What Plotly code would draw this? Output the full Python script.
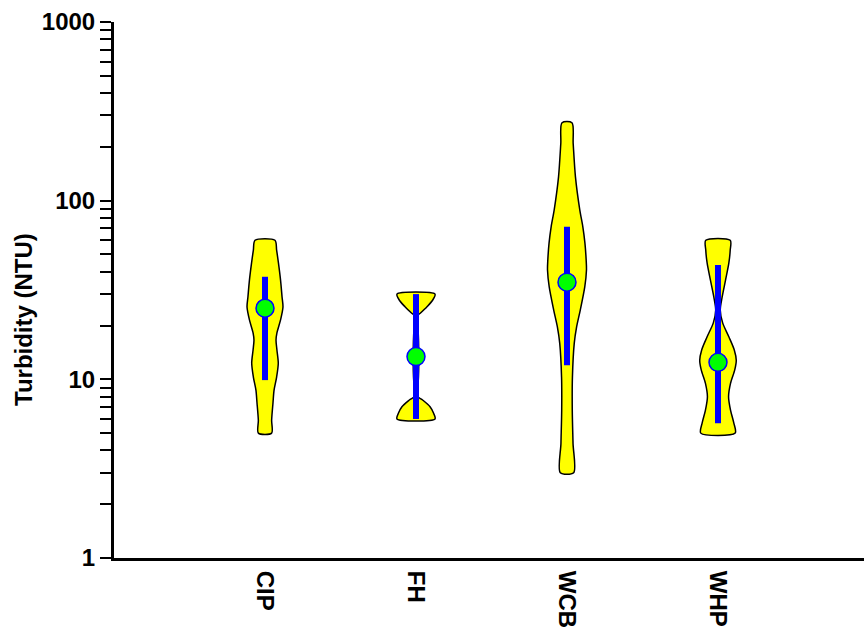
import plotly.graph_objects as go

# ---------------- data ----------------
categories = ["CIP", "FH", "WCB", "WHP"]
medians = [25.0, 13.4, 35.0, 12.45]
interval_low = [9.9, 6.0, 12.0, 5.67]
interval_high = [37.5, 30.0, 71.5, 43.6]

# violin outlines: levels (NTU, top to bottom) and half widths (category units)
cip_levels = [60, 52.9, 44.8, 35.9, 28.9, 25.4, 21.5, 18.2, 16.6, 14.6, 12.3, 10.3, 8.7, 7.4, 5.9, 5.0]
cip_half = [0.066, 0.077, 0.089, 0.103, 0.113, 0.119, 0.103, 0.079, 0.073, 0.079, 0.088, 0.077, 0.060, 0.053, 0.044, 0.044]

fh_levels = [30, 27.8, 25.5, 23.5, 22.3, 8.17, 7.66, 7.03, 6.48, 6.0]
fh_half = [0.126, 0.111, 0.073, 0.030, 0.0, 0.0, 0.044, 0.093, 0.116, 0.126]

wcb_levels = [273, 209, 136, 88.6, 71.4, 57.7, 46.5, 40.9, 33.0, 24.4, 19.7, 15.9, 10.3, 6.73, 4.38, 3.0]
wcb_half = [0.033, 0.041, 0.056, 0.085, 0.105, 0.119, 0.127, 0.129, 0.118, 0.088, 0.064, 0.048, 0.036, 0.035, 0.040, 0.044]

whp_levels = [60, 52.9, 44.8, 35.9, 29.0, 24.4, 20.7, 17.3, 14.6, 12.8, 11.3, 9.5, 8.0, 6.73, 5.69, 5.0]
whp_half = [0.081, 0.081, 0.072, 0.050, 0.028, 0.015, 0.031, 0.072, 0.108, 0.121, 0.111, 0.083, 0.070, 0.083, 0.105, 0.114]

profiles = [(cip_levels, cip_half), (fh_levels, fh_half), (wcb_levels, wcb_half), (whp_levels, whp_half)]

y_major = [1, 10, 100, 1000]

# ---------------- figure ----------------
fig = go.Figure()

for i, (levels, half) in enumerate(profiles):
    xs = [i + w for w in half] + [i - w for w in reversed(half)] + [i + half[0]]
    ys = list(levels) + list(reversed(levels)) + [levels[0]]
    fig.add_trace(go.Scatter(
        x=xs, y=ys, mode="lines", fill="toself",
        fillcolor="#ffff00",
        line=dict(color="black", width=1.5, shape="spline", smoothing=0.8),
        hoverinfo="skip", showlegend=False,
    ))

for i in range(len(categories)):
    fig.add_trace(go.Scatter(
        x=[i, i], y=[interval_low[i], interval_high[i]], mode="lines",
        line=dict(color="#0000ff", width=6),
        showlegend=False, hoverinfo="skip",
    ))

fig.add_trace(go.Scatter(
    x=list(range(len(categories))), y=medians, mode="markers",
    marker=dict(color="#00ff00", size=18, line=dict(color="#0000ff", width=1.5)),
    showlegend=False,
))

tickvals = []
ticktext = []
for k in range(3):
    for d in range(1, 10):
        v = d * 10 ** k
        tickvals.append(v)
        ticktext.append(str(v) if v in y_major else "")
tickvals.append(1000)
ticktext.append("1000")

bold = dict(family="Liberation Sans", size=24, color="black", weight="bold")

fig.update_layout(
    width=864, height=640,
    margin=dict(l=114, r=0, t=22, b=82),
    paper_bgcolor="white", plot_bgcolor="white",
    xaxis=dict(
        range=[-1, 3.967],
        tickvals=list(range(len(categories))), ticktext=categories,
        tickangle=90, ticks="", tickfont=bold, ticklabelstandoff=5,
        showline=True, linecolor="black", linewidth=3,
        showgrid=False, zeroline=False,
    ),
    yaxis=dict(
        type="log", range=[0, 3],
        tickvals=tickvals, ticktext=ticktext, tickfont=bold,
        ticks="outside", ticklen=11, tickwidth=2, tickcolor="black",
        showline=True, linecolor="black", linewidth=3,
        showgrid=False, zeroline=False,
    ),
    annotations=[dict(
        text="Turbidity (NTU)", textangle=-90, showarrow=False,
        xref="paper", yref="paper", x=(23 - 114) / 750, y=(558 - 320) / 536,
        xanchor="center", yanchor="middle", font=bold,
    )],
)

fig.write_html("out.html")
